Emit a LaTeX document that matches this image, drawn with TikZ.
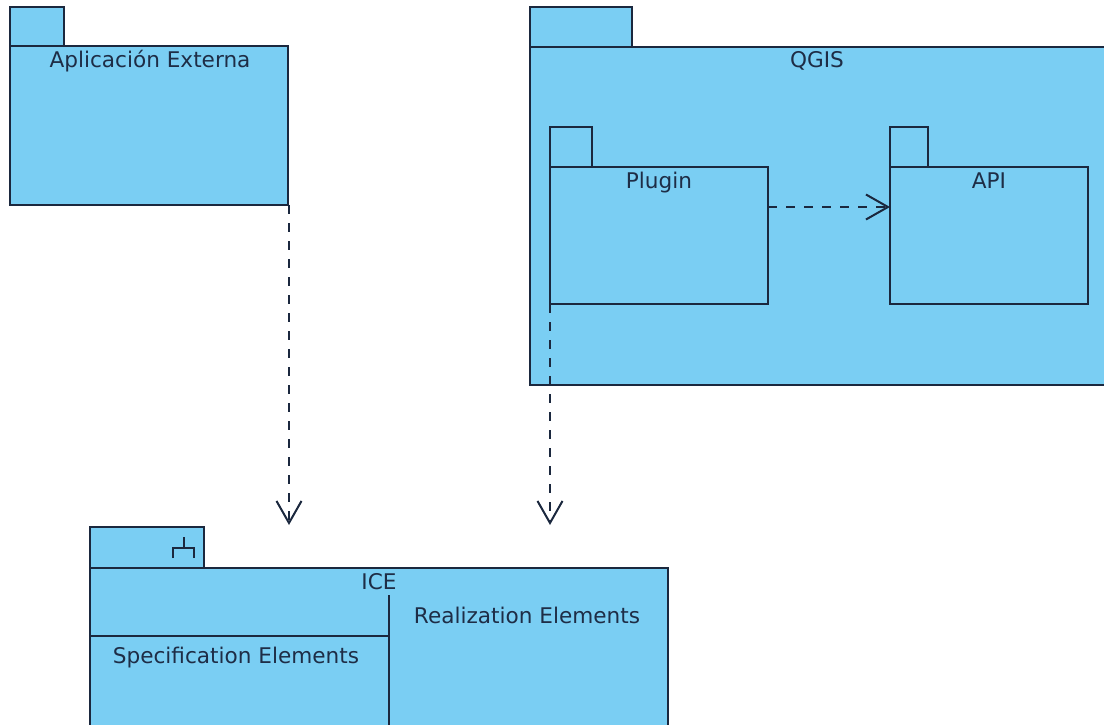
\documentclass[tikz,border=0pt]{standalone}
\usepackage{fontspec}
\setmainfont{DejaVu Sans}
\usetikzlibrary{arrows.meta}
\definecolor{pkgfill}{RGB}{122,206,243}
\definecolor{pkgline}{RGB}{27,40,62}
\definecolor{pkgtext}{RGB}{30,45,70}
\begin{document}
\begin{tikzpicture}[x=1pt,y=-1pt,
  box/.style={draw=pkgline,fill=pkgfill,line width=2pt,anchor=north west,inner sep=0pt,outer sep=0pt},
  lbl/.style={anchor=base,inner sep=0pt,text=pkgtext,font=\fontsize{21.6}{26}\selectfont},
  sep/.style={draw=pkgline,line width=2pt},
  dep/.style={draw=pkgline,line width=2pt,dash pattern=on 9pt off 9pt,-{Straight Barb[length=22pt,width=25pt,line width=2pt]}}]
\useasboundingbox (0,0) rectangle (1104,725);
% Aplicacion Externa
\node[box,minimum width=54pt,minimum height=39pt] (apptab) at (10,7) {};
\node[box,minimum width=278pt,minimum height=159pt] (app) at (10,46) {};
\node[lbl] (applbl) at (150,68) {Aplicación Externa};
% QGIS
\node[box,minimum width=102pt,minimum height=40pt] (qgistab) at (530,7) {};
\node[box,minimum width=580pt,minimum height=338pt] (qgis) at (530,47) {};
\node[lbl] (qgislbl) at (817,68) {QGIS};
% Plugin
\node[box,minimum width=42pt,minimum height=40pt] (plugintab) at (550,127) {};
\node[box,minimum width=218pt,minimum height=137pt] (plugin) at (550,167) {};
\node[lbl] (pluginlbl) at (659,188) {Plugin};
% API
\node[box,minimum width=38pt,minimum height=40pt] (apitab) at (890,127) {};
\node[box,minimum width=198pt,minimum height=137pt] (api) at (890,167) {};
\node[lbl] (apilbl) at (989,188) {API};
% ICE
\node[box,minimum width=114pt,minimum height=41pt] (icetab) at (90,527) {};
\node[box,minimum width=578pt,minimum height=165pt] (ice) at (90,568) {};
\node[lbl] (icelbl) at (379,589) {ICE};
\draw[sep] (388.5,595) -- (388.5,735);
\draw[sep] (ice.west |- 0,636) -- (388.5,636);
\node[lbl] (speclbl) at (236,663) {Specification Elements};
\node[lbl] (reallbl) at (527,623) {Realization Elements};
\draw[draw=pkgline,line width=2pt] (184,537) -- (184,548) (173,558) -- (173,548) -- (194,548) -- (194,558);
% dependencies
\coordinate (t1) at (289,525);
\coordinate (t2) at (550,525);
\draw[dep] (t1 |- app.south) -- (t1);
\draw[dep] (plugin.south west) -- (t2);
\draw[dep] (plugin.east |- 0,207) -- (api.west |- 0,207);
\end{tikzpicture}
\end{document}
